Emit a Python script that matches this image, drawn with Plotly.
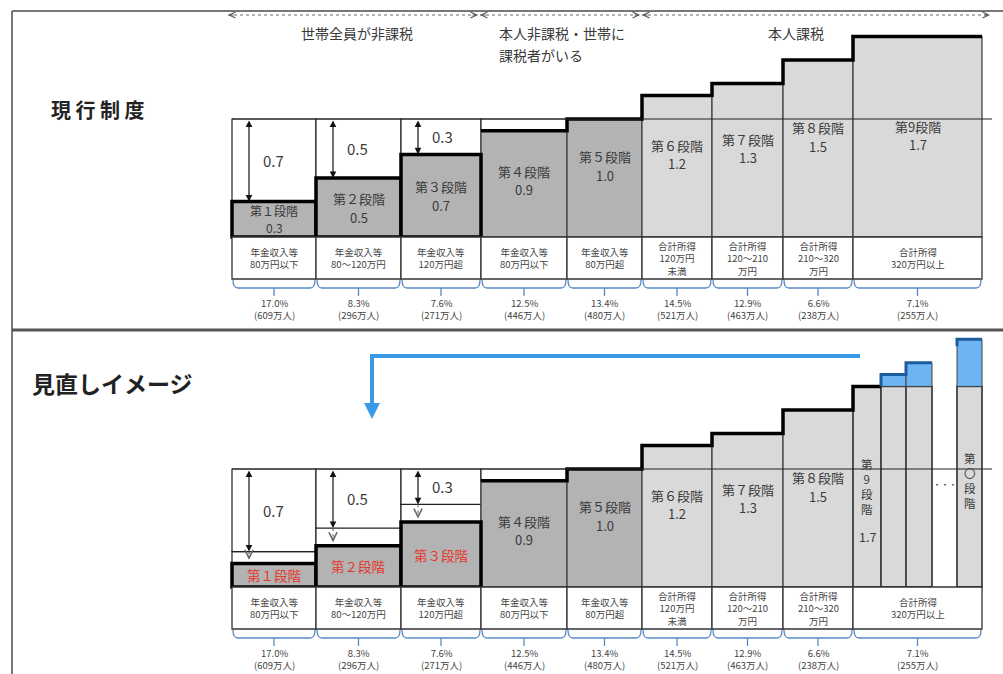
import plotly.graph_objects as go

# ---------------- data ----------------
STAGE_NAMES = ["第１段階", "第２段階", "第３段階", "第４段階", "第５段階",
               "第６段階", "第７段階", "第８段階", "第9段階"]
CURRENT_RATES = [0.3, 0.5, 0.7, 0.9, 1.0, 1.2, 1.3, 1.5, 1.7]
REVISED_LOW_RATES = [0.2, 0.35, 0.55]          # stages 1-3 after revision (estimated)
REVISED_HIGH_RATES = [1.7, 1.8, 1.9, 2.1]      # stage 9 split after revision (estimated)
REVISED_HIGH_NAMES = ["第<br>9<br>段<br>階", "", "", "第<br>〇<br>段<br>階"]
STANDARD_RATE = 1.0
INCOME_LABELS = ["年金収入等<br>80万円以下", "年金収入等<br>80～120万円", "年金収入等<br>120万円超",
                 "年金収入等<br>80万円以下", "年金収入等<br>80万円超",
                 "合計所得<br>120万円<br>未満", "合計所得<br>120～210<br>万円",
                 "合計所得<br>210～320<br>万円", "合計所得<br>320万円以上"]
SHARE_PCT = [17.0, 8.3, 7.6, 12.5, 13.4, 14.5, 12.9, 6.6, 7.1]
PERSONS_10K = [609, 296, 271, 446, 480, 521, 463, 238, 255]
GROUP_LABELS = ["世帯全員が非課税", "本人非課税・世帯に<br>課税者がいる", "本人課税"]
PANEL_TITLES = ["現 行 制 度", "見直しイメージ"]

# ---------------- layout constants ----------------
W, H = 1003, 674
FONT = "Noto Sans CJK JP, Noto Sans, sans-serif"
TXT = "#3a3a3a"
DARK, LIGHT = "#b3b3b3", "#d9d9d9"
BLUE, BLUE_FILL, BLUE_DARK = "#3b9ae6", "#6cb4f2", "#1d5c9c"
BRACE = "#5a8ac6"
EDGES = [232, 316, 401, 481, 567, 642, 712, 783, 853, 982]
SUB_EDGES = [(853, 881), (881, 906), (906, 932), (957, 982)]
S = 118.0
BASE_TOP, BASE_BOT = 237, 587
BOX_H = 42
LABEL_GAP = 0.079   # half distance between stage name and rate lines (in rate units)


def pp(px):
    return 1 - px / H


centers = [(EDGES[i] + EDGES[i + 1]) / 2 for i in range(9)]
widths = [EDGES[i + 1] - EDGES[i] for i in range(9)]
sub_c = [(a + b) / 2 for a, b in SUB_EDGES]
sub_w = [b - a for a, b in SUB_EDGES]

fig = go.Figure()
shapes, annotations = [], []


def bar(x, w, y, base, color, lw, lc, yaxis):
    fig.add_trace(go.Bar(x=x, y=y, base=base, width=w, yaxis=yaxis, xaxis="x",
                         marker=dict(color=color, line=dict(width=lw, color=lc)),
                         hoverinfo="skip", showlegend=False))


def text(x, y, t, size=12, color=TXT, yref="paper", **kw):
    d = dict(x=x, y=y, xref="x", yref=yref, text=t, showarrow=False,
             xanchor="center", yanchor="middle",
             font=dict(family=FONT, size=size, color=color))
    d.update(kw)
    annotations.append(d)


def stage_label(x, y, name, rate, yref, size=13, gap=LABEL_GAP):
    text(x, y + gap, name, size=size, yref=yref)
    text(x, y - gap, f"{rate:.1f}", size=size, yref=yref)


low_idx = [i for i, r in enumerate(CURRENT_RATES) if r < STANDARD_RATE]

# ================= top panel: current system =================
for i in low_idx:
    bar([centers[i]], [widths[i]], [STANDARD_RATE - CURRENT_RATES[i]], [CURRENT_RATES[i]],
        "white", 1.2, "#222", "y")
bar(centers[3:], widths[3:], CURRENT_RATES[3:], [0] * 6,
    [DARK, DARK, LIGHT, LIGHT, LIGHT, LIGHT], 1.3, "#444", "y")
bar(centers[:3], widths[:3], CURRENT_RATES[:3], [0] * 3, DARK, 3.5, "#000", "y")
fig.add_trace(go.Scatter(x=EDGES[3:], y=CURRENT_RATES[3:] + [CURRENT_RATES[8]], yaxis="y",
                         mode="lines", line=dict(shape="hv", width=3.5, color="#000"),
                         hoverinfo="skip", showlegend=False))

# ================= bottom panel: revision =================
old_low = CURRENT_RATES[:3]
for i in range(3):
    bar([centers[i]], [widths[i]], [old_low[i] - REVISED_LOW_RATES[i]], [REVISED_LOW_RATES[i]],
        "white", 1.2, "#222", "y2")
    bar([centers[i]], [widths[i]], [STANDARD_RATE - old_low[i]], [old_low[i]],
        "white", 1.2, "#222", "y2")
bar([centers[3]], [widths[3]], [STANDARD_RATE - CURRENT_RATES[3]], [CURRENT_RATES[3]],
    "white", 1.2, "#222", "y2")
bar(centers[3:8], widths[3:8], CURRENT_RATES[3:8], [0] * 5,
    [DARK, DARK, LIGHT, LIGHT, LIGHT], 1.3, "#444", "y2")
base9 = REVISED_HIGH_RATES[0]
bar(sub_c, sub_w, [base9] * 4, [0] * 4, LIGHT, 1.8, "#444", "y2")
bar(sub_c[1:], sub_w[1:], [r - base9 for r in REVISED_HIGH_RATES[1:]], [base9] * 3,
    BLUE_FILL, 1.0, "#444", "y2")
bar(centers[:3], widths[:3], REVISED_LOW_RATES, [0] * 3, DARK, 3.5, "#000", "y2")
fig.add_trace(go.Scatter(x=EDGES[3:9] + [SUB_EDGES[0][1]],
                         y=CURRENT_RATES[3:8] + [base9, base9], yaxis="y2",
                         mode="lines", line=dict(shape="hv", width=3.5, color="#000"),
                         hoverinfo="skip", showlegend=False))
fig.add_trace(go.Scatter(x=[SUB_EDGES[1][0], SUB_EDGES[2][0], SUB_EDGES[2][1]],
                         y=REVISED_HIGH_RATES[:3], yaxis="y2",
                         mode="lines", line=dict(shape="vh", width=3, color=BLUE_DARK),
                         hoverinfo="skip", showlegend=False))
fig.add_trace(go.Scatter(x=[SUB_EDGES[3][0], SUB_EDGES[3][0], SUB_EDGES[3][1]],
                         y=[REVISED_HIGH_RATES[3] - 0.06, REVISED_HIGH_RATES[3], REVISED_HIGH_RATES[3]],
                         yaxis="y2", mode="lines", line=dict(width=3, color=BLUE_DARK),
                         hoverinfo="skip", showlegend=False))

# ================= frame =================
shapes += [
    dict(type="line", xref="x", yref="paper", x0=12, x1=W, y0=pp(11), y1=pp(11),
         line=dict(color="#777", width=2)),
    dict(type="line", xref="x", yref="paper", x0=12, x1=12, y0=pp(11), y1=0,
         line=dict(color="#777", width=2)),
    dict(type="line", xref="x", yref="paper", x0=12, x1=W, y0=pp(330), y1=pp(330),
         line=dict(color="#555", width=3)),
]
text(98, pp(110), "<b>%s</b>" % PANEL_TITLES[0], size=20, color="#222")
text(112, pp(383), "<b>%s</b>" % PANEL_TITLES[1], size=23, color="#222")

# header group arrows
spans = [(EDGES[0] - 4, EDGES[3] - 3), (EDGES[3] - 1, EDGES[5] - 2), (EDGES[5], EDGES[9] + 8)]
for a, b in spans:
    shapes.append(dict(type="line", xref="x", yref="paper", x0=a, x1=b, y0=pp(15), y1=pp(15),
                       line=dict(color="#666", width=1, dash="dot")))
    for x, off in ((a, 7), (b, -7)):
        annotations.append(dict(x=x, y=pp(15), xref="x", yref="paper", ax=off, ay=0,
                                axref="pixel", ayref="pixel", text="", showarrow=True,
                                arrowhead=5, arrowsize=1.2, arrowwidth=1, arrowcolor="#555"))
text((EDGES[0] + EDGES[3]) / 2, pp(33), GROUP_LABELS[0], size=14)
g2 = GROUP_LABELS[1].split("<br>")
text(EDGES[3] + 16, pp(33), g2[0], size=14, xanchor="left")
text(EDGES[3] + 16, pp(55), g2[1], size=14, xanchor="left")
text((EDGES[5] + EDGES[9]) / 2 - 16, pp(33), GROUP_LABELS[2], size=14)

# ================= per-panel decorations =================
for yref, base in (("y", BASE_TOP), ("y2", BASE_BOT)):
    # standard-rate reference line
    shapes.append(dict(type="line", xref="x", yref=yref, x0=EDGES[0], x1=EDGES[9] + 10,
                       y0=STANDARD_RATE, y1=STANDARD_RATE, line=dict(color="#222", width=1.2)))
    for i in range(9):
        l, r = EDGES[i], EDGES[i + 1]
        c = centers[i]
        shapes.append(dict(type="rect", xref="x", yref="paper", x0=l, x1=r,
                           y0=pp(base), y1=pp(base + BOX_H), fillcolor="white",
                           line=dict(color="#333", width=1.3)))
        text(c, pp(base + BOX_H / 2), INCOME_LABELS[i], size=9.5, color="#444")
        t, b, tk = base + BOX_H + 1, base + BOX_H + 9, base + BOX_H + 17
        path = (f"M{l + 1},{pp(t)} Q{l + 1},{pp(b)} {l + 6},{pp(b)} L{r - 6},{pp(b)} "
                f"Q{r - 1},{pp(b)} {r - 1},{pp(t)} M{c},{pp(b)} L{c},{pp(tk)}")
        shapes.append(dict(type="path", xref="x", yref="paper", path=path,
                           line=dict(color=BRACE, width=1.3)))
        text(c, pp(base + BOX_H + 30), f"{SHARE_PCT[i]:.1f}%<br>({PERSONS_10K[i]}万人)",
             size=9.5, color="#444")

    # gap arrows to standard rate
    for i in low_idx[:3]:
        ax_x = EDGES[i] + 17
        old = CURRENT_RATES[i]
        annotations.append(dict(x=ax_x, y=old, xref="x", yref=yref, ax=ax_x, ay=STANDARD_RATE,
                                axref="x", ayref=yref, text="", showarrow=True,
                                arrowhead=2, startarrowhead=2, arrowside="end+start",
                                arrowsize=1.1, startarrowsize=1.1, arrowwidth=1.2,
                                arrowcolor="#111"))
        text(ax_x + 12, (old + STANDARD_RATE) / 2, f"{STANDARD_RATE - old:.1f}", size=15,
             yref=yref, xanchor="left")
        if yref == "y2":
            new = REVISED_LOW_RATES[i]
            shapes.append(dict(type="line", xref="x", yref=yref, x0=ax_x, x1=ax_x,
                               y0=old, y1=new + 0.04, line=dict(color="#666", width=1, dash="dot")))
            annotations.append(dict(x=ax_x, y=new + 0.03, xref="x", yref=yref, ax=0, ay=-5,
                                    axref="pixel", ayref="pixel", text="", showarrow=True,
                                    arrowhead=5, arrowsize=1.6, arrowwidth=1, arrowcolor="#666"))

# stage labels, top
for i, (n, r) in enumerate(zip(STAGE_NAMES, CURRENT_RATES)):
    if i == 0:
        stage_label(centers[i], r / 2, n, r, "y", size=12, gap=0.072)
        continue
    if i < 3:
        y = r / 2 - 0.005
    elif i < 4:
        y = r / 2 + 0.03
    else:
        y = min(r / 2 + 0.1, 0.86)
    stage_label(centers[i], y, n, r, "y")
# stage labels, bottom
for i in range(3):
    text(centers[i], REVISED_LOW_RATES[i] / 2, STAGE_NAMES[i], size=13.5, color="#e5392e", yref="y2")
for i in range(3, 8):
    r = CURRENT_RATES[i]
    y = r / 2 + 0.03 if i < 4 else min(r / 2 + 0.1, 0.86)
    stage_label(centers[i], y, STAGE_NAMES[i], r, "y2")
text(sub_c[0], base9 / 2, REVISED_HIGH_NAMES[0], size=11.5, yref="y2")
text(sub_c[0], base9 / 4, f"{REVISED_HIGH_RATES[0]:.1f}", size=12.5, yref="y2")
text(sub_c[3], base9 / 2 + 0.05, REVISED_HIGH_NAMES[3], size=11.5, yref="y2")
text((SUB_EDGES[2][1] + SUB_EDGES[3][0]) / 2, base9 / 2 + 0.02, "・・・", size=8, yref="y2",
     color="#222")

# big blue arrow
shapes.append(dict(type="path", xref="x", yref="paper",
                   path=f"M860,{pp(356)} L372,{pp(356)} L372,{pp(406)}",
                   line=dict(color=BLUE, width=4)))
annotations.append(dict(x=372, y=pp(419), xref="x", yref="paper", ax=0, ay=-14,
                        axref="pixel", ayref="pixel", text="", showarrow=True,
                        arrowhead=2, arrowsize=0.8, arrowwidth=4, arrowcolor=BLUE))

fig.update_layout(
    width=W, height=H, margin=dict(l=0, r=0, t=0, b=0),
    paper_bgcolor="white", plot_bgcolor="rgba(0,0,0,0)",
    barmode="overlay", showlegend=False, font=dict(family=FONT),
    xaxis=dict(range=[0, W], visible=False, fixedrange=True),
    yaxis=dict(range=[(BASE_TOP - H) / S, BASE_TOP / S], visible=False, fixedrange=True),
    yaxis2=dict(range=[(BASE_BOT - H) / S, BASE_BOT / S], visible=False, fixedrange=True,
                overlaying="y", anchor="x"),
    shapes=shapes, annotations=annotations,
)
fig.write_html("out.html", config={"displayModeBar": False},
               post_script="document.body.style.margin='0';document.body.style.overflow='hidden';")
